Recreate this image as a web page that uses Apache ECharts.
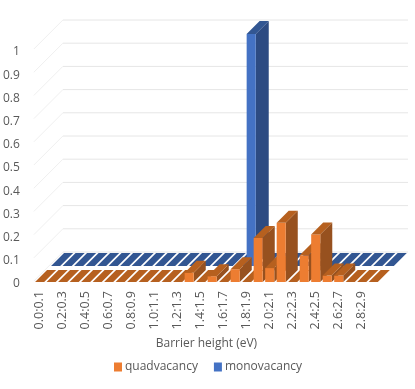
<!DOCTYPE html>
<html>
<head>
<meta charset="utf-8">
<style>
  html, body { margin: 0; padding: 0; background: #fff; }
  #chart { width: 415px; height: 389px; }
</style>
<script src="https://cdn.jsdelivr.net/npm/echarts@6/dist/echarts.min.js"></script>
</head>
<body>
<div id="chart"></div>
<script>
const categories = [
  '0.0:0.1', '0.1:0.2', '0.2:0.3', '0.3:0.4', '0.4:0.5', '0.5:0.6', '0.6:0.7', '0.7:0.8', '0.8:0.9', '0.9:1.0',
  '1.0:1.1', '1.1:1.2', '1.2:1.3', '1.3:1.4', '1.4:1.5', '1.5:1.6', '1.6:1.7', '1.7:1.8', '1.8:1.9', '1.9:2.0',
  '2.0:2.1', '2.1:2.2', '2.2:2.3', '2.3:2.4', '2.4:2.5', '2.5:2.6', '2.6:2.7', '2.7:2.8', '2.8:2.9', '2.9:3.0'
]
const quadvacancy = [
  0, 0, 0, 0, 0, 0, 0, 0, 0, 0,
  0, 0, 0, 0.04, 0, 0.025, 0, 0.055, 0, 0.19,
  0.06, 0.255, 0, 0.115, 0.205, 0.028, 0.028, 0, 0, 0
]
const monovacancy = [
  0, 0, 0, 0, 0, 0, 0, 0, 0, 0,
  0, 0, 0, 0, 0, 0, 0, 1, 0, 0,
  0, 0, 0, 0, 0, 0, 0, 0, 0, 0
]
const yTicks = [0, 0.1, 0.2, 0.3, 0.4, 0.5, 0.6, 0.7, 0.8, 0.9, 1]

// fake 3d: every row is sheared up and right by the same amount
const wallDepth = 29
const barRatio = 0.79

function wallItem(params, api) {
  const band = api.size([1, 0])[0]
  const v = api.value(0)
  const front = api.coord([0, v])
  const end = api.coord([categories.length - 1, v])
  const x0 = front[0] - band / 2
  const x1 = end[0] + band / 2
  const y = front[1]
  return {
    type: 'group',
    children: [
      {
        type: 'line',
        shape: { x1: x0, y1: y, x2: x0 + wallDepth, y2: y - wallDepth },
        style: { stroke: '#f0f0f0', lineWidth: 1 }
      },
      {
        type: 'line',
        shape: { x1: x0 + wallDepth, y1: y - wallDepth, x2: x1 + wallDepth, y2: y - wallDepth },
        style: { stroke: '#e6e6e6', lineWidth: 1 }
      }
    ]
  }
}

function barItem(offset, depth, faces) {
  return function (params, api) {
    const band = api.size([1, 0])[0]
    const w = band * barRatio
    const base = api.coord([api.value(0), 0])
    const top = api.coord([api.value(0), api.value(1)])
    const x0 = base[0] - w / 2 + offset
    const x1 = x0 + w
    const y0 = base[1] - offset + 1
    const y1 = top[1] - offset + 1
    const children = []
    if (api.value(1) > 0) {
      children.push({
        type: 'polygon',
        shape: { points: [[x1, y0], [x1 + depth, y0 - depth], [x1 + depth, y1 - depth], [x1, y1]] },
        style: { fill: faces.side }
      })
      children.push({
        type: 'rect',
        shape: { x: x0, y: y1, width: w, height: y0 - y1 },
        style: { fill: faces.front }
      })
    }
    children.push({
      type: 'polygon',
      shape: { points: [[x0, y1], [x1, y1], [x1 + depth, y1 - depth], [x0 + depth, y1 - depth]] },
      style: { fill: faces.top }
    })
    return { type: 'group', children }
  }
}

const orangeFaces = { front: '#ed7d31', side: '#97511f', top: '#b6601f' }
const blueFaces = { front: '#4472c4', side: '#2d4b82', top: '#325692' }

const chart = echarts.init(document.getElementById('chart'))
const labelFont = { color: '#595959', fontFamily: 'Open Sans', fontSize: 12 }

chart.setOption({
  animation: false,
  backgroundColor: '#fff',
  grid: { left: 33, right: 36, top: 49, height: 232 },
  legend: {
    data: ['quadvacancy', 'monovacancy'],
    top: 361,
    left: 114,
    padding: 0,
    icon: 'rect',
    itemWidth: 8,
    itemHeight: 9,
    itemGap: 16,
    textStyle: Object.assign({}, labelFont, { padding: [0, 0, 0, -2] })
  },
  xAxis: {
    type: 'category',
    data: categories,
    name: 'Barrier height (eV)',
    nameLocation: 'middle',
    nameGap: 56,
    nameTextStyle: labelFont,
    axisLine: { show: false },
    axisTick: { show: false },
    splitLine: { show: false },
    axisLabel: Object.assign({}, labelFont, { fontSize: 12.5, rotate: 90, interval: 1, margin: 10 })
  },
  yAxis: {
    type: 'value',
    min: 0,
    max: 1,
    interval: 0.1,
    axisLine: { show: false },
    axisTick: { show: false },
    splitLine: { show: false },
    axisLabel: Object.assign({}, labelFont, { margin: 14, verticalAlign: 'top', lineHeight: 6 })
  },
  series: [
    {
      type: 'custom',
      name: 'walls',
      z: 1,
      silent: true,
      encode: { y: 0 },
      renderItem: wallItem,
      data: yTicks.map((v) => [v])
    },
    {
      type: 'custom',
      name: 'monovacancy',
      z: 2,
      itemStyle: { color: blueFaces.front },
      encode: { x: 0, y: 1 },
      renderItem: barItem(16, 13, blueFaces),
      data: monovacancy.map((v, i) => [i, v])
    },
    {
      type: 'custom',
      name: 'quadvacancy',
      z: 3,
      itemStyle: { color: orangeFaces.front },
      encode: { x: 0, y: 1 },
      renderItem: barItem(0, 12, orangeFaces),
      data: quadvacancy.map((v, i) => [i, v])
    }
  ]
})
</script>
</body>
</html>
